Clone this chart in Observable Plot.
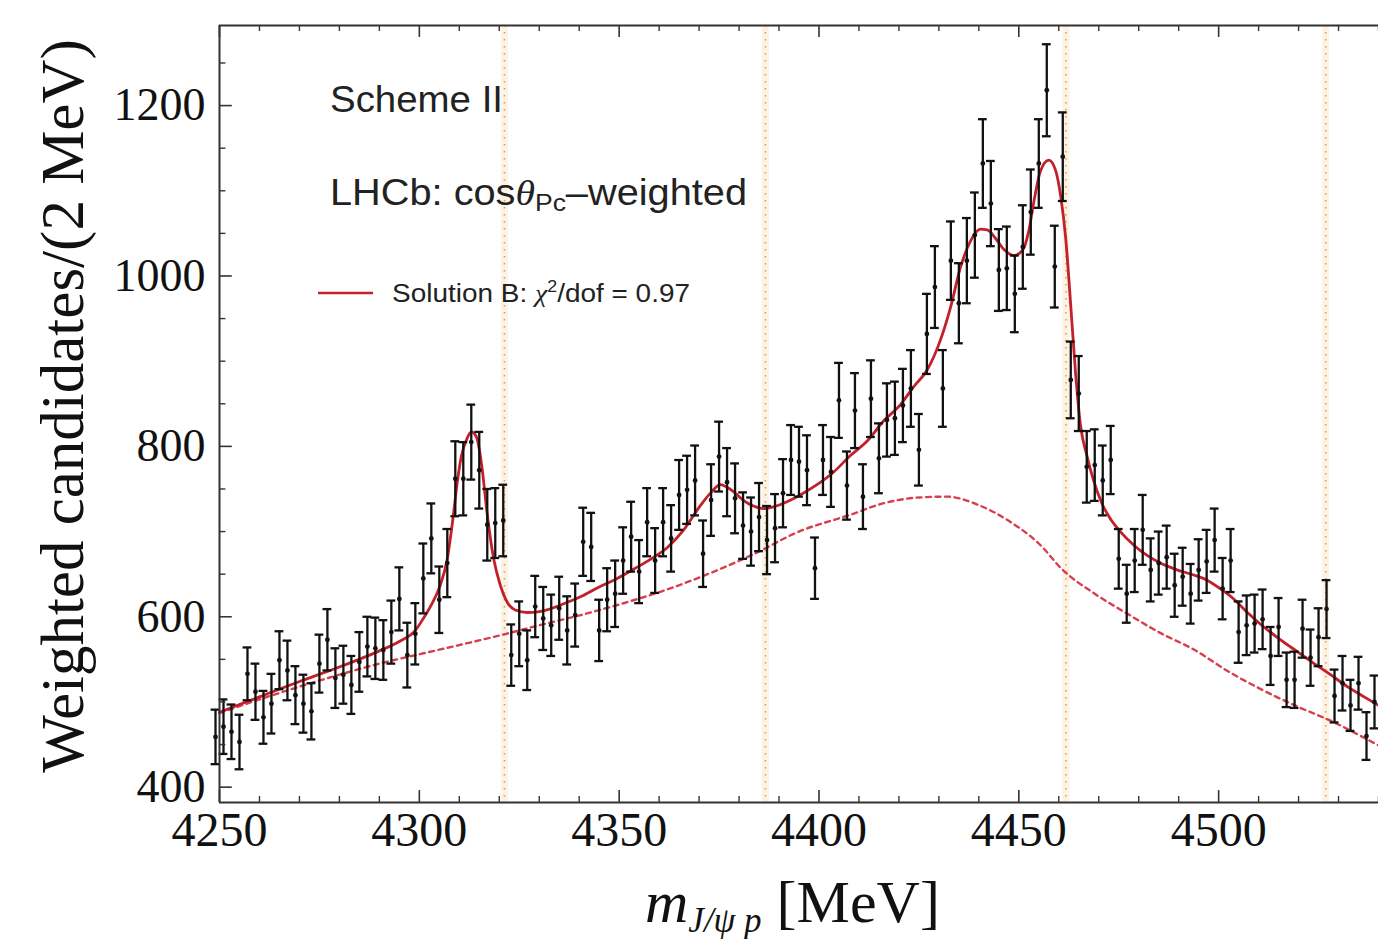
<!DOCTYPE html>
<html>
<head>
<meta charset="utf-8">
<script src="https://cdn.jsdelivr.net/npm/d3@7"></script>
<script src="https://cdn.jsdelivr.net/npm/@observablehq/plot@0.6"></script>
<style>
  html, body { margin: 0; padding: 0; background: #fff; }
  #chart svg { display: block; }
</style>
</head>
<body>
<div id="chart"></div>
<script>
// J/psi p invariant-mass spectrum, cos(theta_Pc)-weighted, 2 MeV bins
const massBins = [
  4249,4251,4253,4255,4257,4259,4261,4263,4265,4267,
  4269,4271,4273,4275,4277,4279,4281,4283,4285,4287,
  4289,4291,4293,4295,4297,4299,4301,4303,4305,4307,
  4309,4311,4313,4315,4317,4319,4321,4323,4325,4327,
  4329,4331,4333,4335,4337,4339,4341,4343,4345,4347,
  4349,4351,4353,4355,4357,4359,4361,4363,4365,4367,
  4369,4371,4373,4375,4377,4379,4381,4383,4385,4387,
  4389,4391,4393,4395,4397,4399,4401,4403,4405,4407,
  4409,4411,4413,4415,4417,4419,4421,4423,4425,4427,
  4429,4431,4433,4435,4437,4439,4441,4443,4445,4447,
  4449,4451,4453,4455,4457,4459,4461,4463,4465,4467,
  4469,4471,4473,4475,4477,4479,4481,4483,4485,4487,
  4489,4491,4493,4495,4497,4499,4501,4503,4505,4507,
  4509,4511,4513,4515,4517,4519,4521,4523,4525,4527,
  4529,4531,4533,4535,4537,4539
];
const candidates = [
  459,471,465,453,533,512,482,498,549,537,
  508,498,489,545,573,528,532,520,547,565,
  563,561,582,621,555,580,645,692,620,663,
  762,762,805,772,708,710,713,555,580,549,
  612,598,590,610,584,602,688,682,584,620,
  627,666,694,653,711,666,711,692,743,749,
  760,674,737,788,758,739,707,700,717,690,
  704,745,784,782,772,657,784,770,854,754,
  842,741,856,786,831,833,848,868,796,932,
  987,868,1018,968,1018,1048,1132,1085,1007,1009,
  979,1034,1075,1132,1218,1011,1140,878,862,776,
  778,760,784,668,627,666,702,655,663,670,
  637,647,627,655,665,690,633,666,582,590,
  592,597,554,588,526,526,586,552,576,609,
  507,522,496,522,460,500
];
const errors = [
  32,32,32,32,31,33,31,35,34,35,
  34,34,33,34,36,35,34,34,35,35,
  36,35,37,37,38,36,41,41,39,40,
  44,43,44,45,42,41,42,36,38,35,
  36,37,36,37,40,37,40,40,36,37,
  39,39,41,37,40,38,40,39,41,40,
  41,39,42,41,40,41,39,40,40,40,
  40,40,41,41,41,36,41,41,44,40,
  44,38,45,41,43,43,43,45,42,47,
  48,45,46,47,50,50,52,50,48,49,
  45,49,50,52,54,48,52,45,44,42,
  42,41,40,35,34,37,41,37,37,37,
  37,34,35,36,37,37,36,37,36,35,
  34,35,34,34,32,33,34,33,34,34,
  31,32,30,31,28,31
];

// Solution B fit (solid) sampled along the curve
const fitMass = [
  4250,4260,4270,4280,4290,4295,4299,4301,4303,4305,4307,4308.4,4309.5,4310.5,4312,4313,
  4314.3,4315.6,4317,4318.6,4320.2,4322,4324,4327,4330,4337,4341,4345,4349.5,4353.7,4358,
  4362,4366,4370.4,4373,4375.3,4377,4378.6,4381,4383.6,4386.1,4388.6,4392,4395.3,4399.5,
  4403.7,4407.8,4412,4416.2,4420.4,4423.7,4427.1,4430.4,4432.9,4435.4,4437.9,4440.4,4442.1,
  4444.2,4446.3,4448.8,4450.9,4452.5,4453.8,4455.4,4457.5,4459.2,4460.5,4461.7,4463,4464.2,
  4465.4,4467.1,4468.7,4470.8,4472.9,4475.4,4478.8,4482.1,4485.4,4489.6,4493.8,4497.1,
  4500.4,4503.5,4507.2,4511.3,4515.5,4519.7,4523.9,4528,4532.2,4536.4,4540
];
const fitValue = [
  488,506,524,541,560,571,584,598,614,634,668,715,758,788,810,817,
  811,778,720,668,638,617,608,605,606,617,625,635,645,656,668,
  681,701,731,746,755,752,747,737,730,727,729,735,743,755,
  770,789,806,830,849,870,890,925,963,1010,1041,1055,1054,
  1044,1031,1024,1030,1053,1088,1123,1136,1124,1093,1046,965,886,
  826,788,760,733,715,700,684,672,663,655,649,643,
  633,622,605,588,573,559,545,532,518,506,496
];

// Background contribution (dashed)
const bgMass = [
  4250,4260,4270,4280,4290,4300,4312,4320,4330,4342,4354,4362,4370,4383,4395,4408,
  4416,4425,4432,4440,4448,4455,4461,4469,4477,4485,4494,4502,4511,4520,4528,4536,4540
];
const bgValue = [
  487,503,518,532,545,556,569,578,590,604,620,632,646,672,700,720,
  733,740,741,731,711,686,655,627,604,582,561,537,514,494,478,459,449
];

// Two-hadron thresholds marked by dotted lines
const thresholds = [4321.3, 4386.6, 4461.8, 4526.8];

const xTicks = [4250, 4300, 4350, 4400, 4450, 4500];
const yTicks = [400, 600, 800, 1000, 1200];

const xDomain = [4250, 4540];
const yDomain = [382, 1294];
const xMinor = d3.range(4250, 4541, 10).filter(d => !xTicks.includes(d));
const yMinor = d3.range(400, 1291, 50).filter(d => !yTicks.includes(d));

const points = massBins.map((m, i) => ({m, v: candidates[i], e: errors[i]}));
const fit = fitMass.map((m, i) => ({m, v: fitValue[i]}));
const bg = bgMass.map((m, i) => ({m, v: bgValue[i]}));

const frameColor = "#333";
const red = "#c3202c";

const plot = Plot.plot({
  width: 1378,
  height: 939,
  marginLeft: 219,
  marginRight: 0,
  marginTop: 25,
  marginBottom: 137,
  x: {domain: xDomain},
  y: {domain: yDomain},
  style: {
    background: "#fff",
    fontFamily: "'Liberation Serif', 'DejaVu Serif', serif",
    fontSize: "46px",
    color: "#111",
    overflow: "visible"
  },
  marks: [
    // threshold lines: pale band with orange dots
    Plot.ruleX(thresholds, {stroke: "#fdf3e5", strokeWidth: 7}),
    Plot.ruleX(thresholds, {stroke: "#e29a52", strokeWidth: 1.6, strokeDasharray: "1.5,5.5"}),

    // background and total fit
    Plot.line(bg, {x: "m", y: "v", stroke: "#d6404d", strokeWidth: 2.4, strokeDasharray: "5,4.5", curve: "monotone-x"}),
    Plot.line(fit, {x: "m", y: "v", stroke: red, strokeWidth: 2.8, curve: "monotone-x"}),

    // data with error bars and caps
    Plot.ruleX(points, {x: "m", y1: d => d.v - d.e, y2: d => d.v + d.e, stroke: "#111", strokeWidth: 2.3}),
    Plot.ruleY(points, {y: d => d.v + d.e, x1: d => d.m - 1.1, x2: d => d.m + 1.1, stroke: "#111", strokeWidth: 2.3}),
    Plot.ruleY(points, {y: d => d.v - d.e, x1: d => d.m - 1.1, x2: d => d.m + 1.1, stroke: "#111", strokeWidth: 2.3}),
    Plot.dot(points, {x: "m", y: "v", r: 2.4, fill: "#111"}),

    // frame (left, bottom, top)
    Plot.ruleX([xDomain[0]], {y1: yDomain[0], y2: yDomain[1], stroke: frameColor, strokeWidth: 2}),
    Plot.ruleY([yDomain[0], yDomain[1]], {x1: xDomain[0], x2: xDomain[1], stroke: frameColor, strokeWidth: 2}),

    // inward ticks on bottom and top
    Plot.ruleX(xTicks, {y1: yDomain[0], y2: yDomain[0] + 14, stroke: frameColor, strokeWidth: 1.6}),
    Plot.ruleX(xMinor, {y1: yDomain[0], y2: yDomain[0] + 7, stroke: frameColor, strokeWidth: 1.4}),
    Plot.ruleX(xTicks, {y1: yDomain[1], y2: yDomain[1] - 14, stroke: frameColor, strokeWidth: 1.6}),
    Plot.ruleX(xMinor, {y1: yDomain[1], y2: yDomain[1] - 7, stroke: frameColor, strokeWidth: 1.4}),
    // inward ticks on the left
    Plot.ruleY(yTicks, {x1: xDomain[0], x2: xDomain[0] + 3.2, stroke: frameColor, strokeWidth: 1.6}),
    Plot.ruleY(yMinor, {x1: xDomain[0], x2: xDomain[0] + 1.6, stroke: frameColor, strokeWidth: 1.4}),

    // tick labels
    Plot.axisX(xTicks, {anchor: "bottom", tickSize: 0, tickPadding: 9, tickFormat: d3.format("d"), label: null, fontSize: 48}),
    Plot.axisY(yTicks, {anchor: "left", tickSize: 0, tickPadding: 14, tickFormat: d3.format("d"), label: null, fontSize: 46})
  ]
});

document.getElementById("chart").appendChild(plot);

// axis titles and annotations
const svg = d3.select(plot);

svg.append("text")
  .attr("transform", "translate(62,406) rotate(-90)")
  .attr("text-anchor", "middle")
  .attr("dominant-baseline", "central")
  .attr("font-family", "'Liberation Serif', serif")
  .attr("font-size", 61)
  .attr("fill", "#111")
  .text("Weighted candidates/(2 MeV)");

const xl = svg.append("text")
  .attr("x", 645).attr("y", 922)
  .attr("text-anchor", "start")
  .attr("font-family", "'Liberation Serif', serif")
  .attr("font-size", 60)
  .attr("fill", "#111");
xl.append("tspan").attr("font-style", "italic").text("m");
xl.append("tspan").attr("font-style", "italic").attr("font-size", 35).attr("dy", 10).text("J/\u03C8 p");
xl.append("tspan").attr("dy", -10).text(" [MeV]");

const ann = svg.append("g")
  .attr("text-anchor", "start")
  .attr("font-family", "'Liberation Sans', Arial, sans-serif")
  .attr("fill", "#222");

ann.append("text")
  .attr("x", 330).attr("y", 112)
  .attr("font-size", 36)
  .attr("textLength", 173).attr("lengthAdjust", "spacingAndGlyphs")
  .text("Scheme II");

const lhcb = ann.append("text")
  .attr("x", 330).attr("y", 205)
  .attr("font-size", 36)
  .attr("textLength", 417).attr("lengthAdjust", "spacingAndGlyphs");
lhcb.append("tspan").text("LHCb: cos");
lhcb.append("tspan").attr("font-family", "'Liberation Serif', serif").attr("font-style", "italic").text("\u03B8");
lhcb.append("tspan").attr("font-size", 24).attr("dy", 6).text("Pc");
lhcb.append("tspan").attr("dy", -6).text("\u2013weighted");

ann.append("line")
  .attr("x1", 318).attr("x2", 373).attr("y1", 293).attr("y2", 293)
  .attr("stroke", red).attr("stroke-width", 2.4);

const leg = ann.append("text")
  .attr("x", 392).attr("y", 302)
  .attr("font-size", 25)
  .attr("textLength", 298).attr("lengthAdjust", "spacingAndGlyphs");
leg.append("tspan").text("Solution B: ");
leg.append("tspan").attr("font-family", "'Liberation Serif', serif").attr("font-style", "italic").text("\u03C7");
leg.append("tspan").attr("font-size", 16).attr("dy", -10).text("2");
leg.append("tspan").attr("dy", 10).text("/dof = 0.97");
</script>
</body>
</html>
